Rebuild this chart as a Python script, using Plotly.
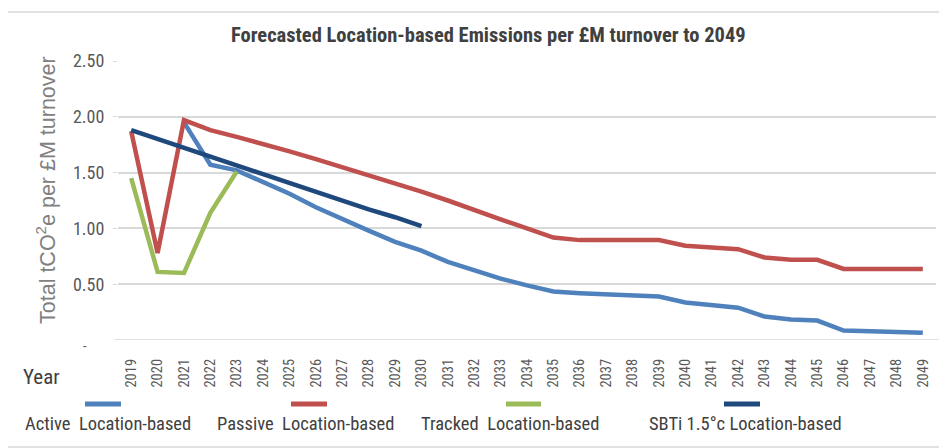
import plotly.graph_objects as go

years = [str(y) for y in range(2019, 2050)]

active = [None, None, 1.95, 1.57, 1.52, 1.42, 1.31, 1.19, 1.08, 0.98, 0.88, 0.80,
          0.70, 0.62, 0.55, 0.49, 0.435, 0.42, 0.41, 0.40, 0.39, 0.336, 0.316, 0.29,
          0.21, 0.183, 0.174, 0.085, 0.078, 0.071, 0.064]
passive = [1.87, 0.78, 1.97, 1.88, 1.82, 1.76, 1.69, 1.62, 1.55, 1.48, 1.41, 1.33,
           1.25, 1.16, 1.08, 1.00, 0.918, 0.895, 0.895, 0.895, 0.895, 0.844, 0.829, 0.814,
           0.74, 0.719, 0.719, 0.637, 0.637, 0.637, 0.637]
tracked = [1.45, 0.61, 0.60, 1.14, 1.51] + [None] * 26
sbti = [1.88, 1.80, 1.72, 1.64, 1.57, 1.49, 1.41, 1.33, 1.25, 1.17, 1.10, 1.02] + [None] * 19

series_names = ["Active Location-based", "Passive Location-based",
                "Tracked Location-based", "SBTi 1.5°c Location-based"]
legend_labels = ["Active  Location-based", "Passive  Location-based",
                 "Tracked  Location-based", "SBTi 1.5°c Location-based"]
colors = ["#4F81BD", "#C0504D", "#9BBB59", "#1F497D"]

y_tickvals = [0.5, 1.0, 1.5, 2.0, 2.5]
y_ticktext = ["0.50", "1.00", "1.50", "2.00", "2.50"]
zero_label = "-"

NARROW = "Roboto Condensed, Liberation Sans, sans-serif"
REG = "Liberation Sans, Arial, sans-serif"

W, H = 947, 448
OFF = 8  # page body margin
L, R, T, B = 110, 19, 53, 116
PW, PH = W - L - R, H - T - B


def px_x(sx):
    return (sx - OFF - L) / PW


def px_y(sy):
    return (H - B - (sy - OFF)) / PH


fig = go.Figure()
for name, vals, col in zip(series_names, [active, passive, tracked, sbti], colors):
    fig.add_trace(go.Scatter(x=years, y=vals, mode="lines", name=name,
                             line=dict(color=col, width=4.5),
                             connectgaps=False, showlegend=False))

shapes = []
annotations = []

# chart border
shapes.append(dict(type="rect", xref="paper", yref="paper",
                   x0=px_x(5), x1=px_x(944), y0=px_y(447), y1=px_y(12),
                   line=dict(color="#d9d9d9", width=1.5), layer="below"))
# zero gridline
shapes.append(dict(type="line", xref="paper", yref="y", x0=px_x(114), x1=px_x(940),
                   y0=0, y1=0, line=dict(color="#d9d9d9", width=1.5), layer="below"))

# custom legend
sample_x = [(85, 121), (291, 327), (506, 541), (724, 760)]
text_x = [25, 217, 421, 649]
for (x0, x1), tx, lab, col in zip(sample_x, text_x, legend_labels, colors):
    shapes.append(dict(type="line", xref="paper", yref="paper",
                       x0=px_x(x0), x1=px_x(x1), y0=px_y(404), y1=px_y(404),
                       line=dict(color=col, width=5)))
    annotations.append(dict(text=lab, xref="paper", yref="paper",
                            x=px_x(tx - 2), y=px_y(424), xanchor="left", yanchor="middle",
                            showarrow=False,
                            font=dict(family=NARROW, size=18.5, color="#404040")))

# title
annotations.append(dict(text="<b>Forecasted Location-based Emissions per £M turnover to 2049</b>",
                        xref="paper", yref="paper", x=px_x(488), y=px_y(35),
                        xanchor="center", yanchor="middle", showarrow=False,
                        font=dict(family=NARROW, size=20.5, color="#404040")))
# y-axis title
annotations.append(dict(text="Total tCO<sup>2</sup>e per £M turnover",
                        xref="paper", yref="paper", x=px_x(46), y=px_y(190),
                        xanchor="center", yanchor="middle", textangle=-90,
                        showarrow=False,
                        font=dict(family=REG, size=21.5, color="#808080")))
# Year label
annotations.append(dict(text="Year", xref="paper", yref="paper",
                        x=px_x(21), y=px_y(377), xanchor="left", yanchor="middle",
                        showarrow=False,
                        font=dict(family=NARROW, size=21, color="#404040")))
# zero tick label
annotations.append(dict(text=zero_label, xref="paper", yref="paper",
                        x=px_x(85), y=px_y(346), xanchor="center", yanchor="middle",
                        showarrow=False,
                        font=dict(family=NARROW, size=14, color="#595959")))

fig.update_layout(
    width=W, height=H,
    margin=dict(l=L, r=R, t=T, b=B, autoexpand=False),
    paper_bgcolor="white", plot_bgcolor="white",
    shapes=shapes, annotations=annotations,
    showlegend=False,
    xaxis=dict(type="category", range=[-0.5, 30.5], showgrid=False,
               showline=False, zeroline=False, ticks="", tickangle=-90,
               ticklabelstandoff=15,
               tickfont=dict(family=NARROW, size=14.5, color="#595959")),
    yaxis=dict(range=[0, 2.5], tickvals=y_tickvals, ticktext=y_ticktext,
               showgrid=True, gridcolor="#d9d9d9", gridwidth=1.5,
               zeroline=False, showline=False,
               ticks="outside", ticklen=4, tickcolor="#d9d9d9",
               ticklabelstandoff=5,
               tickfont=dict(family=NARROW, size=18, color="#595959")),
)

fig.write_html("out.html")
